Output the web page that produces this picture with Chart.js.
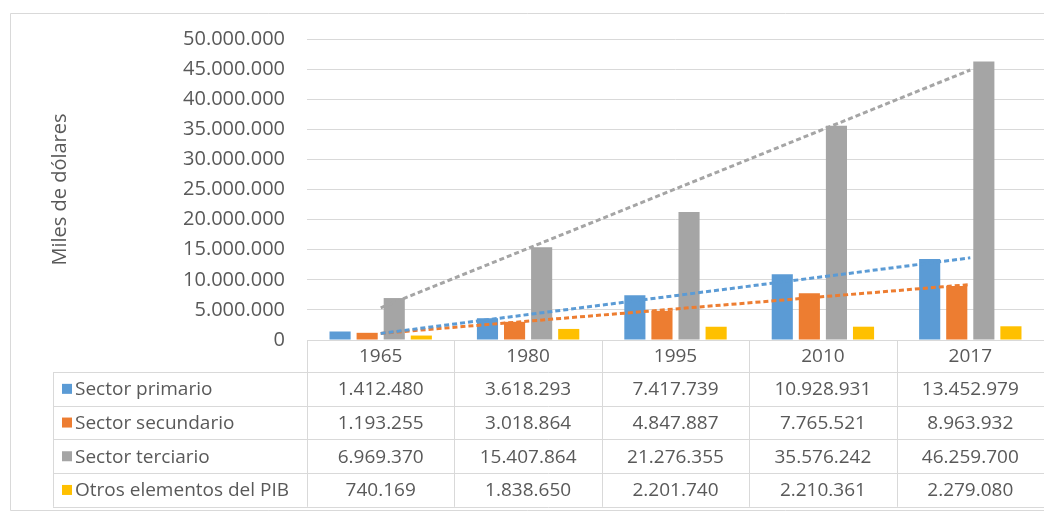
<!DOCTYPE html>
<html>
<head>
<meta charset="utf-8">
<script src="https://cdn.jsdelivr.net/npm/chart.js@4.4.0/dist/chart.umd.min.js"></script>
<style>
  html, body { margin: 0; padding: 0; background: #ffffff; }
  #wrap { width: 1044px; height: 513px; position: relative; }
</style>
</head>
<body>
<div id="wrap"><canvas id="c" width="1044" height="513"></canvas></div>
<script>
// ---- Data ----
const years = ['1965', '1980', '1995', '2010', '2017'];
const seriesNames = ['Sector primario', 'Sector secundario', 'Sector terciario', 'Otros elementos del PIB'];
const sectorPrimario = [1412480, 3618293, 7417739, 10928931, 13452979];
const sectorSecundario = [1193255, 3018864, 4847887, 7765521, 8963932];
const sectorTerciario = [6969370, 15407864, 21276355, 35576242, 46259700];
const otrosElementos = [740169, 1838650, 2201740, 2210361, 2279080];
// Trend line end points (first and last year)
const trendPrimario = [1090000, null, null, null, 13650000];
const trendSecundario = [1100000, null, null, null, 9220000];
const trendTerciario = [5350000, null, null, null, 44850000];
const yTicks = [0, 5000000, 10000000, 15000000, 20000000, 25000000, 30000000, 35000000, 40000000, 45000000, 50000000];

const colors = ['#5B9BD5', '#ED7D31', '#A5A5A5', '#FFC000'];
const textColor = '#595959';
const gridColor = '#D9D9D9';
const FONT = "'Open Sans', sans-serif";

function fmt(n) {
  const s = String(Math.round(n));
  let out = '';
  for (let i = 0; i < s.length; i++) {
    if (i > 0 && (s.length - i) % 3 === 0) out += '.';
    out += s[i];
  }
  return out;
}

const allSeries = [sectorPrimario, sectorSecundario, sectorTerciario, otrosElementos];

const tablePlugin = {
  id: 'dataTable',
  beforeDraw(chart) {
    const ctx = chart.ctx;
    ctx.save();
    ctx.fillStyle = '#ffffff';
    ctx.fillRect(0, 0, chart.width, chart.height);
    // outer border (top, left, bottom)
    ctx.strokeStyle = '#D9D9D9';
    ctx.lineWidth = 1;
    ctx.beginPath();
    ctx.moveTo(chart.width, 13.5);
    ctx.lineTo(10.5, 13.5);
    ctx.lineTo(10.5, 510.5);
    ctx.lineTo(chart.width, 510.5);
    ctx.stroke();
    ctx.restore();
  },
  afterDraw(chart) {
    const ctx = chart.ctx;
    const x = chart.scales.x;
    const area = chart.chartArea;
    const n = years.length;
    const colW = (area.right - area.left) / n;
    const top = area.bottom;
    const headerH = 32;
    const rowH = 33.7;
    const tableLeft = 53;
    const bottom = top + headerH + rowH * allSeries.length;
    ctx.save();
    ctx.strokeStyle = gridColor;
    ctx.lineWidth = 1;
    ctx.beginPath();
    ctx.moveTo(area.left, Math.round(top) + 0.5);
    ctx.lineTo(area.right, Math.round(top) + 0.5);
    for (let r = 0; r <= allSeries.length; r++) {
      const y = Math.round(top + headerH + r * rowH) + 0.5;
      ctx.moveTo(tableLeft, y);
      ctx.lineTo(area.right, y);
    }
    for (let c = 0; c < n; c++) {
      const xx = Math.round(area.left + c * colW) + 0.5;
      ctx.moveTo(xx, top);
      ctx.lineTo(xx, bottom);
    }
    ctx.moveTo(tableLeft + 0.5, top + headerH);
    ctx.lineTo(tableLeft + 0.5, bottom);
    ctx.stroke();

    ctx.fillStyle = textColor;
    ctx.font = '19px ' + FONT;
    ctx.textAlign = 'center';
    ctx.textBaseline = 'middle';
    years.forEach((yr, i) => {
      ctx.fillText(yr, x.getPixelForValue(i), top + headerH / 2 + 1);
    });
    allSeries.forEach((arr, r) => {
      const cy = top + headerH + r * rowH + rowH / 2 + 1;
      ctx.fillStyle = colors[r];
      ctx.fillRect(62, cy - 6, 10, 10);
      ctx.fillStyle = textColor;
      ctx.textAlign = 'left';
      ctx.fillText(seriesNames[r], 75, cy);
      ctx.textAlign = 'center';
      arr.forEach((v, i) => {
        ctx.fillText(fmt(v), x.getPixelForValue(i), cy);
      });
    });
    ctx.restore();
  }
};

const barOpts = { categoryPercentage: 0.735, barPercentage: 0.78, order: 2 };
const lineOpts = (c) => ({
  type: 'line', borderColor: c, borderWidth: 3, borderDash: [5, 3],
  pointRadius: 0, fill: false, spanGaps: true, order: 0, tension: 0
});

new Chart(document.getElementById('c'), {
  type: 'bar',
  data: {
    labels: years,
    datasets: [
      Object.assign({ label: seriesNames[0], data: sectorPrimario, backgroundColor: colors[0] }, barOpts),
      Object.assign({ label: seriesNames[1], data: sectorSecundario, backgroundColor: colors[1] }, barOpts),
      Object.assign({ label: seriesNames[2], data: sectorTerciario, backgroundColor: colors[2] }, barOpts),
      Object.assign({ label: seriesNames[3], data: otrosElementos, backgroundColor: colors[3] }, barOpts),
      Object.assign({ label: 'Lineal (Sector primario)', data: trendPrimario }, lineOpts(colors[0])),
      Object.assign({ label: 'Lineal (Sector secundario)', data: trendSecundario }, lineOpts(colors[1])),
      Object.assign({ label: 'Lineal (Sector terciario)', data: trendTerciario }, lineOpts(colors[2]))
    ]
  },
  options: {
    responsive: false,
    animation: false,
    devicePixelRatio: 1,
    layout: { padding: { left: 0, top: 39, right: 0, bottom: 173 } },
    plugins: { legend: { display: false }, tooltip: { enabled: false } },
    scales: {
      x: { display: false, offset: true },
      y: {
        min: 0, max: 50000000,
        afterFit(scale) { scale.width = 307; },
        afterBuildTicks(scale) { scale.ticks = yTicks.map(v => ({ value: v })); },
        border: { display: false },
        grid: { color: gridColor, drawTicks: false, lineWidth: 1 },
        ticks: {
          padding: 22, color: textColor, font: { family: FONT, size: 20 },
          callback: (v) => fmt(v)
        },
        title: {
          display: true, text: 'Miles de dólares', color: textColor,
          font: { family: FONT, size: 20 }, padding: { top: 48, bottom: 0 }
        }
      }
    }
  },
  plugins: [tablePlugin]
});
</script>
</body>
</html>
